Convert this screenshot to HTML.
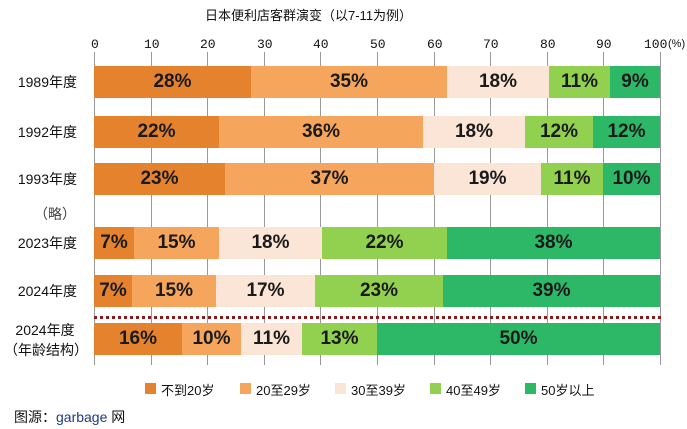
<!DOCTYPE html><html><head><meta charset="utf-8"><style>
body{margin:0;width:687px;height:429px;background:#fff;position:relative;font-family:"Liberation Sans","Noto Sans CJK SC",sans-serif;overflow:hidden}
.a{position:absolute}
.t{font-size:13px;color:#111}
.seg{position:absolute;display:flex;align-items:center;justify-content:center;font-weight:bold;font-size:19px;color:#1a1a1a}
.g{position:absolute;top:52px;width:1px;height:313px;background:#999}
.rl{position:absolute;right:610px;font-size:14px;color:#111;text-align:right;white-space:nowrap}
</style></head><body>
<div class="a t" style="left:205px;top:5px;font-size:13px">日本便利店客群演变（以7-11为例）</div>
<div id="c"></div>
<div class="a" style="left:94px;top:316px;width:567px;border-top:3px dotted #8b1a1a"></div>
<div class="a" style="left:4px;top:320px;width:82px;line-height:20px;text-align:center;font-size:14px;color:#111">2024年度<br>（年龄结构）</div>
<div class="a t" style="left:34px;top:204px;color:#444;font-size:14px">（略）</div>
<div class="a t" style="left:14px;top:407px;font-size:14px">图源：<span style="color:#1a3a8a">garbage</span> 网</div>
<script>
const X=v=>94+v*5.66;let h='';
for(let i=0;i<=10;i++){h+=`<div class="g" style="left:${Math.round(X(i*10))}px"></div>`;if(i<10)h+=`<div class="a t" style="left:${Math.round(X(i*10))-(i?7:3)}px;top:37px;font-family:'Liberation Mono',monospace">${i*10}</div>`;}
h+=`<div class="a t" style="left:644px;top:37px;font-family:'Liberation Mono',monospace;font-size:13px">100</div><div class="a" style="left:668px;top:38px;font-size:11px;color:#111;white-space:nowrap">(%)</div>`;
const C=['#e5822e','#f5a55c','#fbe5d6','#92d050','#2db868'];
const R=[[66,'1989年度',[251,447,549,610,660],['28%','35%','18%','11%','9%']],
[116,'1992年度',[219,423,525,593,660],['22%','36%','18%','12%','12%']],
[163,'1993年度',[225,434,541,603,660],['23%','37%','19%','11%','10%']],
[227,'2023年度',[134,219,322,447,660],['7%','15%','18%','22%','38%']],
[275,'2024年度',[132,216,315,443,660],['7%','15%','17%','23%','39%']],
[323,'',[182,241,302,377,660],['16%','10%','11%','13%','50%']]];
R.forEach(r=>{let p=94;r[2].forEach((e,i)=>{h+=`<div class="seg" style="left:${p}px;top:${r[0]}px;width:${e-p}px;height:32px;background:${C[i]}">${r[3][i]}</div>`;p=e;});
if(r[1])h+=`<div class="rl" style="top:${r[0]+6}px">${r[1]}</div>`;});
const L=['不到20岁','20至29岁','30至39岁','40至49岁','50岁以上'],LX=[145,240,335,430,525];
L.forEach((l,i)=>{h+=`<div class="a" style="left:${LX[i]}px;top:383px;width:11px;height:11px;background:${C[i]}"></div><div class="a t" style="left:${LX[i]+16}px;top:380px">${l}</div>`;});
document.getElementById('c').innerHTML=h;
</script>
</body></html>
